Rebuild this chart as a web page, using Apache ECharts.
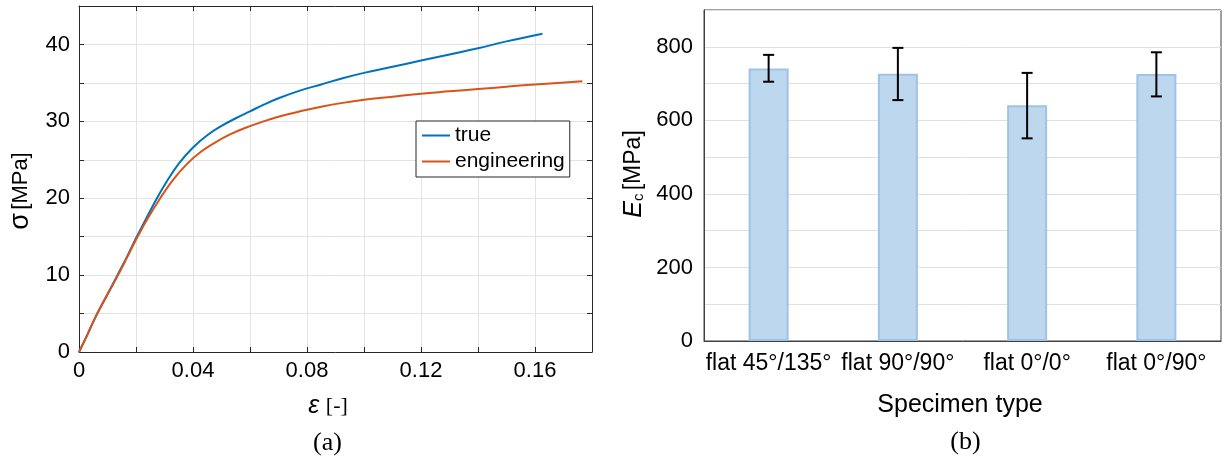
<!DOCTYPE html>
<html>
<head>
<meta charset="utf-8">
<script src="https://cdn.jsdelivr.net/npm/echarts@6/dist/echarts.min.js"></script>
<style>
  html, body { margin: 0; padding: 0; background: #fff; }
  #chart { width: 1222px; height: 463px; }
</style>
</head>
<body>
<div id="chart"></div>
<script>
// ---- data ----
const strainTrue = [0, 0.003, 0.006, 0.010, 0.0135, 0.017, 0.020, 0.0235, 0.0272, 0.031, 0.035, 0.040, 0.045, 0.050, 0.055, 0.060, 0.065, 0.070, 0.0775, 0.085, 0.0925, 0.100, 0.110, 0.120, 0.130, 0.140, 0.150, 0.1626];
const stressTrue = [0, 2.3, 4.7, 7.5, 10.0, 12.5, 14.8, 17.3, 19.9, 22.3, 24.5, 26.6, 28.2, 29.4, 30.4, 31.3, 32.2, 33.0, 34.0, 34.8, 35.6, 36.3, 37.1, 37.9, 38.7, 39.5, 40.4, 41.4];
const strainEng = [0, 0.003, 0.006, 0.010, 0.0137, 0.017, 0.020, 0.024, 0.0285, 0.033, 0.038, 0.043, 0.048, 0.053, 0.058, 0.064, 0.070, 0.0775, 0.085, 0.0925, 0.100, 0.110, 0.120, 0.130, 0.140, 0.150, 0.160, 0.1766];
const stressEng = [0, 2.3, 4.7, 7.5, 10.0, 12.4, 14.6, 17.3, 20.0, 22.4, 24.5, 26.1, 27.3, 28.3, 29.1, 29.9, 30.6, 31.3, 31.9, 32.4, 32.8, 33.2, 33.6, 33.9, 34.2, 34.5, 34.8, 35.2];

const specimenTypes = ['flat 45°/135°', 'flat 90°/90°', 'flat 0°/0°', 'flat 0°/90°'];
const modulusMean = [741, 727, 641, 726];
const modulusLow  = [705, 655, 551, 665];
const modulusHigh = [778, 797, 729, 785];

const seriesNames = ['true', 'engineering'];

// ---- build ----
const pairs = (xs, ys) => xs.map((x, i) => [x, ys[i]]);
const sans = 'Liberation Sans, Arial, Helvetica, sans-serif';
const serif = 'Liberation Serif, Times New Roman, serif';
const axisDark = '#262626';

const chart = echarts.init(document.getElementById('chart'), null, { renderer: 'canvas' });

const tickStyle = { inside: true, length: 5, lineStyle: { color: axisDark, width: 1 } };

chart.setOption({
  animation: false,
  backgroundColor: '#ffffff',
  grid: [
    { left: 79, top: 6, width: 513, height: 346 },
    { left: 704, top: 10, width: 517, height: 331, show: true, borderColor: '#404040', borderWidth: 1, backgroundColor: 'transparent' }
  ],
  legend: {
    data: seriesNames.map(n => ({ name: n, icon: 'rect' })),
    orient: 'vertical',
    left: 416, top: 121,
    itemWidth: 28, itemHeight: 2, itemGap: 5,
    padding: [4, 5, 5, 6],
    borderColor: axisDark, borderWidth: 1,
    backgroundColor: '#ffffff',
    textStyle: { fontFamily: sans, fontSize: 21, color: '#000', padding: [0, 0, 0, 0] },
    align: 'left'
  },
  xAxis: [
    {
      type: 'value', gridIndex: 0, min: 0, max: 0.18, interval: 0.02,
      axisLine: { show: true, onZero: false, lineStyle: { color: axisDark } },
      axisTick: tickStyle,
      axisLabel: {
        fontFamily: sans, fontSize: 22, color: '#000', margin: 8,
        formatter: v => { const k = Math.round(v * 100); return k % 4 === 0 ? (k === 0 ? '0' : (k / 100).toFixed(2)) : ''; }
      },
      splitLine: { show: true, lineStyle: { color: '#e3e3e3', width: 1 } }
    },
    {
      type: 'value', gridIndex: 0, position: 'top', min: 0, max: 0.18, interval: 0.02,
      axisLine: { show: true, onZero: false, lineStyle: { color: axisDark } },
      axisTick: tickStyle, axisLabel: { show: false }, splitLine: { show: false }
    },
    {
      type: 'category', gridIndex: 1, data: specimenTypes,
      axisLine: { show: true, lineStyle: { color: '#404040' } },
      axisTick: { show: false },
      axisLabel: { fontFamily: sans, fontSize: 23, color: '#000', margin: 11, interval: 0 }
    }
  ],
  yAxis: [
    {
      type: 'value', gridIndex: 0, min: 0, max: 45, interval: 5,
      axisLine: { show: true, onZero: false, lineStyle: { color: axisDark } },
      axisTick: tickStyle,
      axisLabel: { fontFamily: sans, fontSize: 22, color: '#000', margin: 9, formatter: v => (v % 10 === 0 ? String(v) : '') },
      splitLine: { show: true, lineStyle: { color: '#e3e3e3', width: 1 } }
    },
    {
      type: 'value', gridIndex: 0, position: 'right', min: 0, max: 45, interval: 5,
      axisLine: { show: true, onZero: false, lineStyle: { color: axisDark } },
      axisTick: tickStyle, axisLabel: { show: false }, splitLine: { show: false }
    },
    {
      type: 'value', gridIndex: 1, min: 0, max: 900, interval: 100,
      axisLine: { show: true, lineStyle: { color: '#404040' } },
      axisTick: { show: false },
      axisLabel: { fontFamily: sans, fontSize: 22, color: '#000', margin: 11, formatter: v => (v % 200 === 0 ? String(v) : '') },
      splitLine: { show: true, lineStyle: { color: '#e0e0e0', width: 1 } }
    }
  ],
  series: [
    {
      name: seriesNames[0], type: 'line', xAxisIndex: 0, yAxisIndex: 0,
      data: pairs(strainTrue, stressTrue), showSymbol: false, smooth: 0.4,
      lineStyle: { color: '#0072BD', width: 2 }, itemStyle: { color: '#0072BD' }, z: 3
    },
    {
      name: seriesNames[1], type: 'line', xAxisIndex: 0, yAxisIndex: 0,
      data: pairs(strainEng, stressEng), showSymbol: false, smooth: 0.4,
      lineStyle: { color: '#D95319', width: 2 }, itemStyle: { color: '#D95319' }, z: 4
    },
    {
      name: 'Ec', type: 'bar', xAxisIndex: 2, yAxisIndex: 2,
      data: modulusMean, barWidth: 40,
      itemStyle: { color: '#BDD7EE', borderColor: '#9DC3E6', borderWidth: 2 }
    },
    {
      name: 'err', type: 'custom', xAxisIndex: 2, yAxisIndex: 2,
      data: specimenTypes.map((c, i) => [i, modulusLow[i], modulusHigh[i]]),
      encode: { x: 0, y: [1, 2] },
      z: 10,
      renderItem: (params, api) => {
        const lo = api.coord([api.value(0), api.value(1)]);
        const hi = api.coord([api.value(0), api.value(2)]);
        const half = 5.5;
        const st = { stroke: '#000', lineWidth: 2 };
        return {
          type: 'group',
          children: [
            { type: 'line', shape: { x1: lo[0], y1: lo[1], x2: hi[0], y2: hi[1] }, style: st },
            { type: 'line', shape: { x1: lo[0] - half, y1: lo[1], x2: lo[0] + half, y2: lo[1] }, style: st },
            { type: 'line', shape: { x1: hi[0] - half, y1: hi[1], x2: hi[0] + half, y2: hi[1] }, style: st }
          ]
        };
      }
    }
  ],
  graphic: [
    {
      type: 'text', x: 21, y: 191, rotation: Math.PI / 2,
      style: {
        text: '{s|σ} {u|[MPa]}', align: 'center', verticalAlign: 'middle', textAlign: 'center', textVerticalAlign: 'middle',
        rich: { s: { fontFamily: sans, fontSize: 27, fill: '#000', color: '#000' }, u: { fontFamily: sans, fontSize: 22, fill: '#000', color: '#000' } }
      }
    },
    {
      type: 'text', x: 328, y: 406,
      style: {
        text: '{e|ε}  {u|[-]}', align: 'center', verticalAlign: 'middle', textAlign: 'center', textVerticalAlign: 'middle',
        rich: { e: { fontFamily: sans, fontStyle: 'italic', fontSize: 25, fill: '#000', color: '#000' }, u: { fontFamily: serif, fontSize: 22, fill: '#000', color: '#000' } }
      }
    },
    {
      type: 'text', x: 634, y: 174, rotation: Math.PI / 2,
      style: {
        text: '{e|E}{c|c} {u|[MPa]}', align: 'center', verticalAlign: 'middle', textAlign: 'center', textVerticalAlign: 'middle',
        rich: {
          e: { fontFamily: sans, fontStyle: 'italic', fontSize: 25, fill: '#000', color: '#000' },
          c: { fontFamily: sans, fontSize: 15, fill: '#000', color: '#000', verticalAlign: 'bottom', padding: [8, 0, 0, 0] },
          u: { fontFamily: sans, fontSize: 23, fill: '#000', color: '#000' }
        }
      }
    },
    {
      type: 'text', x: 960, y: 405,
      style: { text: 'Specimen type', font: '25px ' + sans, fill: '#000', align: 'center', verticalAlign: 'middle', textAlign: 'center', textVerticalAlign: 'middle' }
    },
    {
      type: 'text', x: 327.5, y: 443,
      style: { text: '(a)', font: '26px ' + serif, fill: '#000', align: 'center', verticalAlign: 'middle', textAlign: 'center', textVerticalAlign: 'middle' }
    },
    {
      type: 'text', x: 965.5, y: 442,
      style: { text: '(b)', font: '26px ' + serif, fill: '#000', align: 'center', verticalAlign: 'middle', textAlign: 'center', textVerticalAlign: 'middle' }
    }
  ]
});
</script>
</body>
</html>
